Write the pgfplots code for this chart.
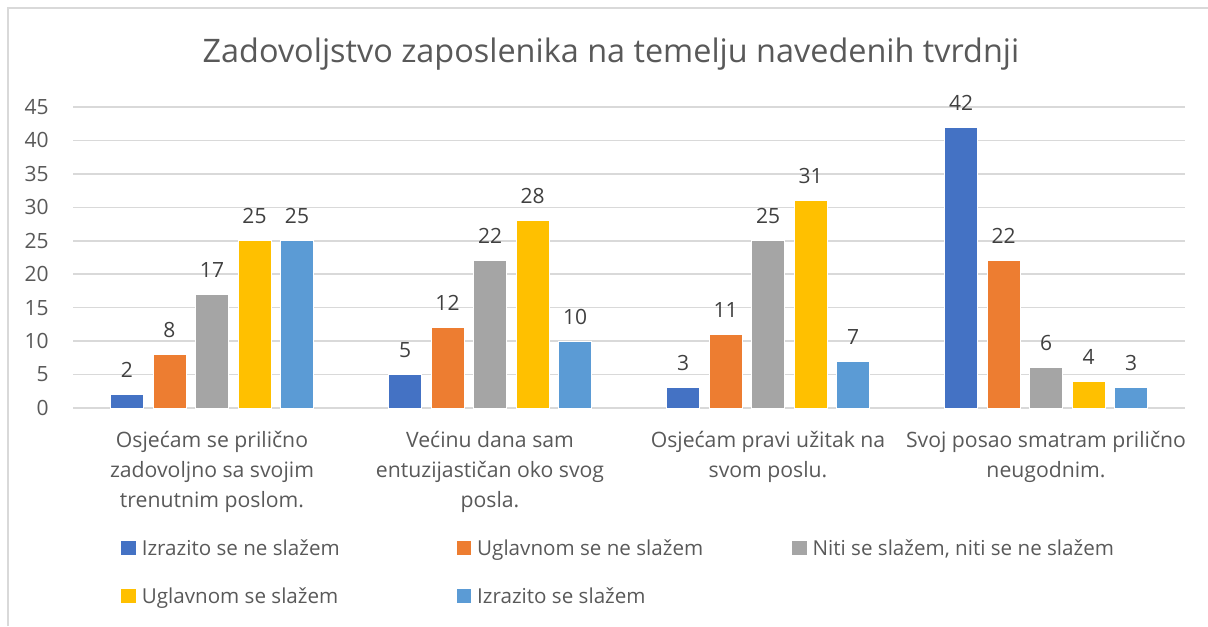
\documentclass[border=0pt]{standalone}
\usepackage{fontspec}
\setmainfont{Open Sans}
\usepackage{pgfplots}
\pgfplotsset{compat=1.18}
\definecolor{sA}{HTML}{4472C4}
\definecolor{sB}{HTML}{ED7D31}
\definecolor{sC}{HTML}{A5A5A5}
\definecolor{sD}{HTML}{FFC000}
\definecolor{sE}{HTML}{5B9BD5}
\definecolor{txt}{HTML}{595959}
\definecolor{lab}{HTML}{404040}
\definecolor{gridc}{HTML}{D9D9D9}

\begin{document}
\begin{tikzpicture}[x=1pt,y=1pt]
\useasboundingbox (0,0) rectangle (604,313);
\draw[gridc, line width=0.75pt] (4,0) -- (4,309) -- (604,309);
\node[anchor=base, font=\fontsize{16.2}{19}\selectfont, text=txt, inner sep=0pt]
  at (305.5,281.5) {Zadovoljstvo zaposlenika na temelju navedenih tvrdnji};
\begin{axis}[
  at={(36.5pt,109pt)}, anchor=south west,
  scale only axis, width=556pt, height=150.5pt,
  ybar=4.75pt, bar width=16.5pt,
  xmin=-0.5, xmax=3.5, ymin=0, ymax=45,
  ytick={0,5,...,45},
  xtick={0,1,2,3},
  xticklabels={{Osjećam se prilično\\zadovoljno sa svojim\\trenutnim poslom.},
    {Većinu dana sam\\entuzijastičan oko svog\\posla.},
    {Osjećam pravi užitak na\\svom poslu.},
    {Svoj posao smatram prilično\\neugodnim.}},
  axis line style={draw=none},
  major tick length=0pt,
  ymajorgrids, grid style={gridc, line width=0.75pt},
  yticklabel style={font=\fontsize{10.5}{12}\selectfont, text=txt, inner sep=0pt, xshift=-12pt},
  xticklabel style={font=\fontsize{10.6}{15}\selectfont, text=txt, align=center, inner sep=0pt, anchor=north, yshift=-11.5pt},
  /pgf/number format/assume math mode=true,
  clip=false,
  nodes near coords,
  nodes near coords style={font=\fontsize{10.5}{12}\selectfont, text=lab, inner sep=0pt, anchor=base, yshift=8.5pt},
  every axis plot/.append style={draw=white, line width=0.5pt},
  legend columns=3,
  legend image code/.code={\fill[#1,draw=none] (0pt,-3.6pt) rectangle (7.2pt,3.6pt);},
  legend style={at={(axis description cs:0.0432,-0.4385)}, anchor=north west, draw=none, fill=none,
    inner sep=0pt, row sep=16.5pt,
    nodes={inner sep=0pt, text height=7.5pt, text depth=0pt, font=\fontsize{10.3}{13}\selectfont, text=txt},
    /tikz/every odd column/.append style={column sep=3pt}},
  legend cell align=left,
]
\addplot[fill=sA] coordinates {(0,2) (1,5) (2,3) (3,42)};
\addlegendentry{\makebox[157.5pt][l]{Izrazito se ne slažem}}
\addplot[fill=sB] coordinates {(0,8) (1,12) (2,11) (3,22)};
\addlegendentry{\makebox[157.5pt][l]{Uglavnom se ne slažem}}
\addplot[fill=sC] coordinates {(0,17) (1,22) (2,25) (3,6)};
\addlegendentry{\makebox[157.5pt][l]{Niti se slažem, niti se ne slažem}}
\addplot[fill=sD] coordinates {(0,25) (1,28) (2,31) (3,4)};
\addlegendentry{\makebox[157.5pt][l]{Uglavnom se slažem}}
\addplot[fill=sE] coordinates {(0,25) (1,10) (2,7) (3,3)};
\addlegendentry{\makebox[157.5pt][l]{Izrazito se slažem}}
\end{axis}
\end{tikzpicture}
\end{document}
